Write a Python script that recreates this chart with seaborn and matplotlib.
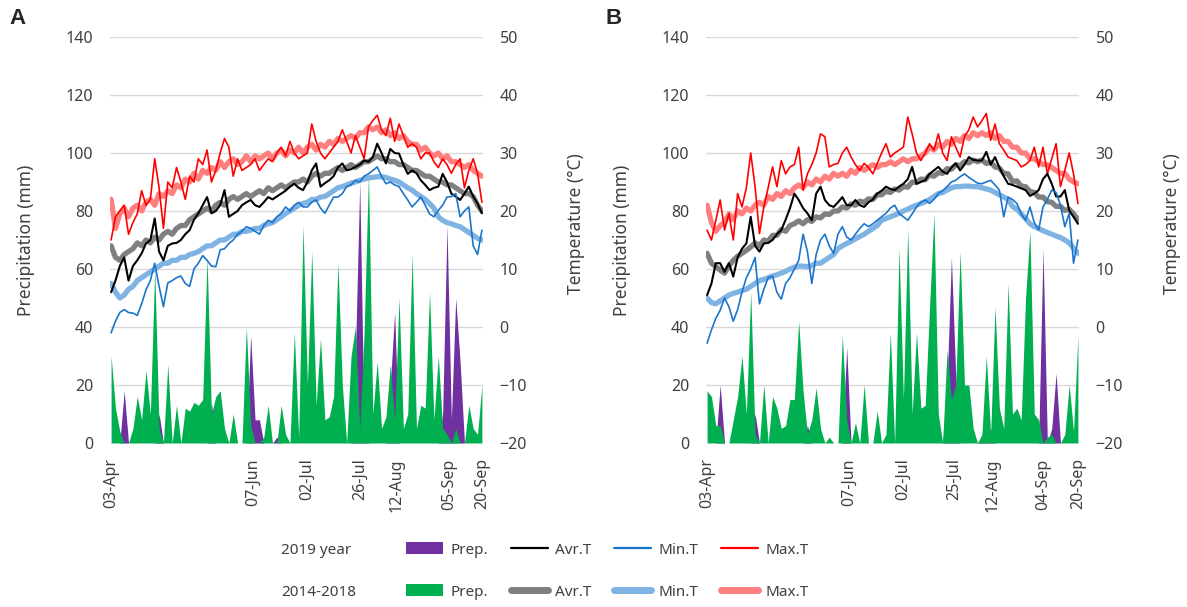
import numpy as np
import pandas as pd
import matplotlib
matplotlib.use("Agg")
import matplotlib.pyplot as plt
import matplotlib.dates as mdates
from matplotlib.lines import Line2D
from matplotlib.patches import Patch
import seaborn as sns

sns.set_style("white")
plt.rcParams['font.family'] = ['Noto Sans', 'DejaVu Sans']

# every second day, 03-Apr .. 20-Sep
dates = pd.date_range('2019-04-03', '2019-09-20', freq='2D')

# ---------------- panel A ----------------
a_prep_5y = [30, 12, 4, 0, 0, 5, 16, 8, 25, 10,
             60, 5, 0, 27, 0, 13, 0, 12, 11, 14,
             13, 15, 64, 10, 16, 18, 5, 0, 10, 0,
             0, 40, 6, 0, 0, 2, 13, 0, 0, 13,
             3, 0, 38, 2, 75, 20, 66, 13, 36, 8,
             9, 16, 62, 20, 0, 30, 40, 5, 38, 93,
             10, 28, 5, 9, 27, 8, 50, 5, 10, 65,
             5, 13, 12, 52, 8, 30, 5, 3, 0, 5,
             0, 0, 13, 5, 3, 20]
a_prep_2019 = [0, 0, 0, 18, 0, 0, 0, 0, 0, 0,
               0, 10, 0, 0, 0, 0, 0, 0, 0, 0,
               0, 0, 0, 14, 0, 0, 0, 0, 0, 0,
               0, 0, 37, 8, 8, 0, 0, 0, 2, 0,
               0, 0, 0, 0, 0, 0, 0, 0, 0, 0,
               0, 0, 0, 0, 0, 0, 30, 90, 5, 0,
               0, 0, 0, 0, 20, 45, 0, 0, 0, 0,
               0, 0, 0, 0, 0, 0, 10, 75, 8, 50,
               28, 0, 0, 0, 0, 0]
a_max_2019 = [15, 19, 20, 21, 16, 18, 19.5, 23.5, 21, 22,
              29, 24, 17, 25, 24, 27.5, 25, 22, 26, 25,
              29, 28, 30.5, 25, 27, 30, 32.5, 31, 26, 29,
              27, 27.5, 28, 29, 27, 28, 29, 28.5, 30, 31,
              29.5, 32, 30, 29, 29.5, 30, 35, 32, 30, 29,
              30, 31, 32, 34, 32, 30, 33, 31, 29, 34.5,
              35.6, 36.5, 34, 33, 36, 32, 35, 33, 31, 31.6,
              31, 29, 30, 30, 28.5, 27.5, 29, 28, 26.5, 28,
              29, 24, 27, 29, 26.5, 21.5]
a_max_5y = [22, 17, 19.5, 20.5, 19, 20.5, 21, 20, 21.5, 22,
            21, 23, 22.5, 23.5, 23, 24.5, 24, 25.5, 25, 26.5,
            25.5, 27, 26.5, 27.5, 27, 28.5, 27.5, 28.5, 29, 28,
            28.5, 29.5, 28.5, 29.5, 29, 29.5, 30, 29, 30, 30.5,
            29.5, 30.5, 30, 31, 30, 31, 31.5, 30.5, 31.5, 31,
            32, 31.5, 32.5, 32, 32.5, 33, 32.5, 33.5, 33.5, 34.5,
            34, 34.5, 33.5, 34, 33, 33.5, 32.5, 33, 32, 31.5,
            31.5, 30.5, 31, 30, 29.5, 30, 29, 29.5, 28.5, 28.5,
            28, 27.5, 28, 27, 26.5, 26]
a_avg_2019 = [6, 8, 10.5, 12, 8, 10.5, 11.5, 12.7, 14.4, 15,
              18.7, 13, 11.5, 14, 14.4, 14.5, 15, 16, 16.7, 18.5,
              19.6, 21, 22.4, 19.6, 20, 21, 23.6, 19, 19.5, 20,
              21, 21.5, 21.9, 21, 20.7, 21.5, 22.4, 22, 22.5, 23,
              23.5, 24.2, 24.7, 24, 23.6, 25, 27, 28.2, 24.2, 24.8,
              25.3, 26, 27.5, 28.2, 27, 27.2, 27.6, 28, 28.7, 28.5,
              29.3, 31.6, 30, 28.2, 30.7, 30, 29.9, 28, 26.4, 27,
              26.5, 25.3, 24.5, 23.6, 24, 24.2, 26.4, 25, 23, 22.5,
              21.9, 23, 24.2, 22.5, 21.3, 19.6]
a_avg_5y = [14, 12, 11.5, 12.5, 13, 13.5, 14.5, 14, 15, 14.5,
            15.5, 15, 16, 16.5, 16, 17, 17.5, 17.5, 18.5, 19,
            19.5, 20, 20.5, 20, 21, 21.5, 21, 22, 22.5, 22,
            22.5, 23, 22.5, 23, 23.5, 23, 24, 23.5, 24, 24.5,
            24, 24.5, 25, 25, 25.5, 25, 26, 26.5, 26, 26.5,
            26.5, 27, 27.5, 27, 27.5, 28, 27.5, 28, 28.5, 28.5,
            29, 29.5, 29, 29, 28.5, 28.5, 28, 28, 27.5, 27,
            27, 26.5, 26, 26, 25.5, 25, 25, 24.5, 24.5, 24,
            23.5, 23, 23, 22.5, 21, 20]
a_min_2019 = [-1, 1, 2.5, 3, 2.5, 2.4, 2, 4, 6.4, 8,
              11, 7, 3.5, 7.6, 8, 8.5, 8.8, 7.5, 7, 10,
              11, 12.3, 11.5, 10.5, 10.4, 13.3, 13.5, 14.4, 15, 16,
              16.5, 17.3, 17, 16.5, 16, 17.5, 18.4, 18, 19, 19.6,
              20.7, 20, 21, 21.5, 20.7, 20.7, 21.5, 21.9, 20.5, 19.6,
              21, 22.4, 22.4, 23, 24.2, 24.5, 25.3, 25, 26, 26.4,
              27, 27.6, 26, 24.7, 25, 24.5, 24.2, 23, 21.9, 20.7,
              21.5, 22.4, 21, 19.5, 19, 20.1, 21, 22.4, 22.5, 23,
              19, 20, 20.7, 14, 12.5, 16.7]
a_min_5y = [7.5, 6, 5, 5.5, 6.5, 7, 8, 8.5, 9, 9.5,
            10, 10.5, 11, 11, 11.5, 11.5, 12, 12, 12.5, 12.7,
            13, 13.5, 14, 14, 14.5, 15, 15, 15.5, 16, 16,
            16.5, 16.5, 16.7, 17, 17, 17.5, 17.8, 18, 18.5, 19,
            19.6, 20, 20.5, 21, 21.3, 21.5, 22, 22, 22.4, 22.5,
            23, 23.5, 24, 24.2, 24.5, 24.8, 25, 25.3, 25.5, 25.7,
            25.8, 25.9, 25.9, 25.8, 25.5, 25.3, 25, 24.5, 24, 23.6,
            23, 22.5, 22, 21.3, 20.5, 19, 18.4, 18, 17.8, 17.5,
            17.3, 16.8, 16.3, 15.8, 15.3, 15]
a_ticks = ['2019-04-03', '2019-06-07', '2019-07-02', '2019-07-26',
           '2019-08-12', '2019-09-05', '2019-09-20']

# ---------------- panel B ----------------
b_prep_5y = [18, 16, 6, 6, 0, 0, 8, 16, 30, 10,
             52, 3, 0, 20, 0, 16, 12, 5, 6, 15,
             15, 42, 18, 3, 8, 19, 5, 0, 2, 0,
             0, 37, 8, 0, 7, 0, 20, 0, 0, 11,
             0, 3, 38, 0, 67, 15, 74, 10, 38, 12,
             13, 47, 79, 10, 0, 32, 15, 20, 66, 20,
             20, 5, 0, 3, 30, 3, 47, 12, 5, 55,
             10, 12, 8, 50, 73, 10, 8, 0, 2, 3,
             0, 0, 3, 20, 4, 37]
b_prep_2019 = [0, 0, 0, 20, 0, 0, 0, 0, 0, 0,
               0, 10, 0, 0, 0, 0, 0, 0, 0, 0,
               0, 0, 0, 6, 0, 0, 0, 0, 0, 0,
               0, 0, 33, 0, 0, 0, 0, 0, 0, 0,
               0, 0, 0, 0, 0, 0, 0, 0, 0, 0,
               0, 0, 0, 0, 0, 20, 64, 23, 0, 0,
               0, 0, 0, 2, 0, 5, 0, 0, 0, 0,
               0, 0, 0, 0, 0, 0, 0, 67, 0, 5,
               24, 0, 0, 0, 0, 0]
b_max_2019 = [16.7, 15, 18.4, 21.9, 16.7, 19.6, 15, 23, 20.7, 24,
              30, 24.2, 16.1, 20.7, 24, 27.6, 24.2, 28.7, 26.4, 27.6,
              28, 31, 23.6, 26.4, 28, 30, 33.3, 32.8, 27.6, 28,
              28.2, 30, 31, 29.3, 28, 27, 28.2, 27.5, 26.4, 28.2,
              30, 31.6, 29.3, 30, 30.5, 31, 36.2, 33.3, 30, 28.7,
              30, 31.6, 30.5, 33.3, 30, 28.7, 32.8, 31, 29.3, 32.8,
              34, 36.2, 34.5, 35.6, 36.8, 32.2, 35, 31.6, 30.5, 29.3,
              29, 28.7, 27.6, 28, 28.7, 31, 27.6, 31, 26.4, 29,
              31.6, 24.2, 27, 30, 26.4, 21.3]
b_max_5y = [21, 18, 16.5, 17.5, 18, 19.5, 18.5, 20, 19.5, 20.5,
            20, 21, 21.5, 21, 22.5, 22, 23, 22.5, 23.5, 23,
            24, 24.5, 24, 25, 24.5, 25.5, 25, 26, 25.5, 26.5,
            26, 26.5, 26, 27, 26.5, 27.5, 27, 27.5, 28, 27.5,
            28, 28, 28.5, 28, 28.5, 29, 28.5, 29, 29, 29.5,
            30, 31, 30.5, 31.5, 31, 32, 31.5, 32.5, 32, 33,
            32.5, 33.5, 33, 33.5, 33, 33.5, 32.5, 33, 32, 32,
            31, 31, 30, 30, 29, 29, 28.5, 28, 28, 27.5,
            27, 26.5, 26.5, 25.5, 25, 24.7]
b_avg_2019 = [5.5, 7.5, 11, 11, 9.5, 11, 8.7, 12, 13.5, 14.4,
              19, 14, 13, 14.4, 14.5, 15, 16, 16.7, 18.5, 20.5,
              23, 21.9, 20.5, 19.6, 18.4, 23, 24.2, 21.9, 21, 20.7,
              21.5, 22.4, 21, 21, 21.9, 21, 20.7, 21.5, 22, 23,
              23.5, 24.2, 23.8, 23.6, 24.2, 24.7, 25.5, 27.6, 24.7, 25,
              25.3, 26.4, 27, 27.6, 26.8, 26.4, 27.5, 28.2, 27, 28,
              29.3, 28.8, 28.7, 28.7, 30.2, 28, 29.3, 27.5, 26, 24.7,
              24.5, 24.2, 23.9, 23.6, 22.6, 23, 23.6, 25.5, 26.4, 24.7,
              22.5, 22.5, 23.6, 20.1, 19, 17.8]
b_avg_5y = [12.7, 11, 10.4, 9.8, 9.3, 10.5, 11.5, 12.2, 12.7, 13.2,
            13.8, 14.5, 14, 15, 14.8, 15.8, 15.8, 16.8, 16.5, 17.5,
            17.8, 18.3, 17.8, 18.5, 18.2, 19, 18.8, 19.5, 19.4, 20,
            20, 20.7, 20.5, 21.2, 21, 21.7, 21.5, 22.1, 22, 22.8,
            22.8, 23.4, 23.2, 23.8, 23.6, 24.2, 24.1, 25, 24.9, 25.5,
            25.4, 26.2, 26, 26.6, 26.5, 27.3, 27.2, 28, 27.8, 28.5,
            28.3, 28.8, 28.5, 28.8, 28.2, 28.4, 27.6, 27.4, 26.5, 26.4,
            25.1, 25.2, 24.3, 24.2, 23.4, 23.2, 22.4, 22.4, 21.6, 21.5,
            20.8, 20.8, 20.1, 20.3, 19.5, 18.5]
b_min_2019 = [-2.8, -0.5, 1.5, 2.9, 5, 3.5, 1, 3, 6, 8.5,
              10, 12, 4, 6.5, 8.5, 8.8, 6, 4.8, 7.5, 8.5,
              10, 11.5, 16, 13, 7.5, 12.5, 15, 16, 14, 12.7,
              16, 17.3, 15.5, 15, 16, 17, 17.8, 17.3, 17.8, 18.4,
              19, 19.6, 20.5, 21, 19.6, 19, 18.4, 19.5, 20.7, 21.5,
              21.9, 21.3, 22, 23, 23.5, 24.2, 25, 25.3, 25.9, 26.4,
              25.8, 25.3, 24.8, 24.7, 25, 25.3, 24.5, 23.6, 19, 22.4,
              22, 21.3, 19.5, 18.4, 20.7, 18, 16.7, 20.7, 22, 23.6,
              23.2, 21, 17.3, 19.6, 11, 15]
b_min_5y = [5, 4.2, 4, 4.5, 5, 5.5, 5.8, 6, 6.3, 6.5,
            7, 7.5, 8, 8.2, 8.5, 8.8, 9, 9.3, 9.6, 10,
            10.3, 10.5, 10.5, 10.4, 10.6, 11, 11, 11.5, 12, 12.5,
            13.5, 14, 14.4, 14.8, 15.2, 15.6, 16, 16.5, 17, 17.5,
            18.4, 18.7, 19, 19.3, 19.6, 20, 20.3, 20.7, 21, 21.3,
            21.6, 22, 22.5, 23, 23.2, 23.6, 24, 24.2, 24.2, 24.3,
            24.3, 24.2, 24.2, 24, 23.8, 23.6, 23.2, 22.8, 22.4, 22,
            20.8, 20.3, 19.5, 18.7, 17.8, 17.3, 17, 16.6, 16.3, 16,
            15.7, 15.4, 15, 14.5, 13.6, 12.7]
b_ticks = ['2019-04-03', '2019-06-07', '2019-07-02', '2019-07-25',
           '2019-08-12', '2019-09-04', '2019-09-20']

PURPLE = '#7030A0'
GREEN = '#00B050'
TXT = '#404040'

# (column, colour, width) - 5 year means drawn first, thick
line_styles = [
    ('max_5y', '#FF7F7F', 3.8),
    ('avg_5y', '#808080', 3.8),
    ('min_5y', '#7FB3E3', 3.8),
    ('max_2019', '#FF0000', 1.2),
    ('avg_2019', '#000000', 1.5),
    ('min_2019', '#1B75CC', 1.2),
]


def make_frame(prep_5y, prep_2019, max_2019, max_5y, avg_2019, avg_5y, min_2019, min_5y):
    return pd.DataFrame({'date': dates, 'prep_5y': prep_5y, 'prep_2019': prep_2019,
                         'max_2019': max_2019, 'max_5y': max_5y,
                         'avg_2019': avg_2019, 'avg_5y': avg_5y,
                         'min_2019': min_2019, 'min_5y': min_5y})


def draw_panel(ax, df, ticks):
    ax.set_axisbelow(True)
    ax.fill_between(df['date'], df['prep_2019'], color=PURPLE, lw=0)
    ax.fill_between(df['date'], df['prep_5y'], color=GREEN, lw=0)
    ax.set_ylim(0, 140)
    ax.set_yticks(range(0, 141, 20))
    ax.grid(axis='y', color='#D9D9D9', lw=1)
    ax.grid(axis='x', visible=False)

    ax2 = ax.twinx()
    for col, color, lw in line_styles:
        sns.lineplot(data=df, x='date', y=col, color=color, linewidth=lw,
                     solid_capstyle='round', ax=ax2)
    ax2.set_ylim(-20, 50)
    ax2.set_yticks(range(-20, 51, 10))
    ax2.grid(False)

    ax.set_xlim(pd.Timestamp('2019-04-03') - pd.Timedelta(hours=12),
                pd.Timestamp('2019-09-20') + pd.Timedelta(hours=12))
    ax.set_xticks(pd.to_datetime(ticks))
    ax.xaxis.set_major_formatter(mdates.DateFormatter('%d-%b'))

    for a in (ax, ax2):
        for s in a.spines.values():
            s.set_visible(False)
        a.tick_params(length=0, labelsize=11.5, colors=TXT, pad=12)
        a.set_xlabel('')
    ax.tick_params(axis='x', rotation=90, pad=11)

    ax.set_ylabel('Precipitation (mm)', fontsize=12.5, color=TXT)
    ax.yaxis.set_label_coords(-0.2, 0.5)
    ax2.set_ylabel('Temperature (°C)', fontsize=12.5, color=TXT, rotation=90)
    ax2.yaxis.set_label_coords(1.225, 0.54)


df_a = make_frame(a_prep_5y, a_prep_2019, a_max_2019, a_max_5y,
                  a_avg_2019, a_avg_5y, a_min_2019, a_min_5y)
df_b = make_frame(b_prep_5y, b_prep_2019, b_max_2019, b_max_5y,
                  b_avg_2019, b_avg_5y, b_min_2019, b_min_5y)

W, H = 1187, 607
fig = plt.figure(figsize=(W / 100, H / 100), dpi=100)
ax_a = fig.add_axes([110 / W, 1 - 443 / H, 373 / W, 406 / H])
ax_b = fig.add_axes([706 / W, 1 - 443 / H, 373 / W, 406 / H])

draw_panel(ax_a, df_a, a_ticks)
draw_panel(ax_b, df_b, b_ticks)

for letter, xpix in [('A', 9), ('B', 606)]:
    fig.text(xpix / W, 1 - 18 / H, letter, fontsize=16, fontweight='bold',
             family=['Liberation Sans', 'DejaVu Sans'], va='center')

# two-row legend with row captions
rows = [
    ('2019 year', PURPLE, ['#000000', '#1B75CC', '#FF0000'], 1.6, 550),
    ('2014-2018', GREEN, ['#808080', '#7FB3E3', '#FF7F7F'], 5.0, 592),
]
for caption, pcol, lcols, lw, ypix in rows:
    fig.text(281 / W, 1 - ypix / H, caption, fontsize=11, color=TXT, va='center')
    handles = [Patch(facecolor=pcol, edgecolor='none')]
    handles += [Line2D([], [], color=c, lw=lw, solid_capstyle='round') for c in lcols]
    fig.legend(handles, ['Prep.', 'Avr.T', 'Min.T', 'Max.T'], ncol=4,
               loc='center left', bbox_to_anchor=(406 / W, 1 - ypix / H),
               frameon=False, fontsize=11, labelcolor=TXT,
               handlelength=2.4, handleheight=0.85, handletextpad=0.5,
               columnspacing=1.5, borderpad=0, borderaxespad=0)

fig.savefig('out.png', dpi=100)
